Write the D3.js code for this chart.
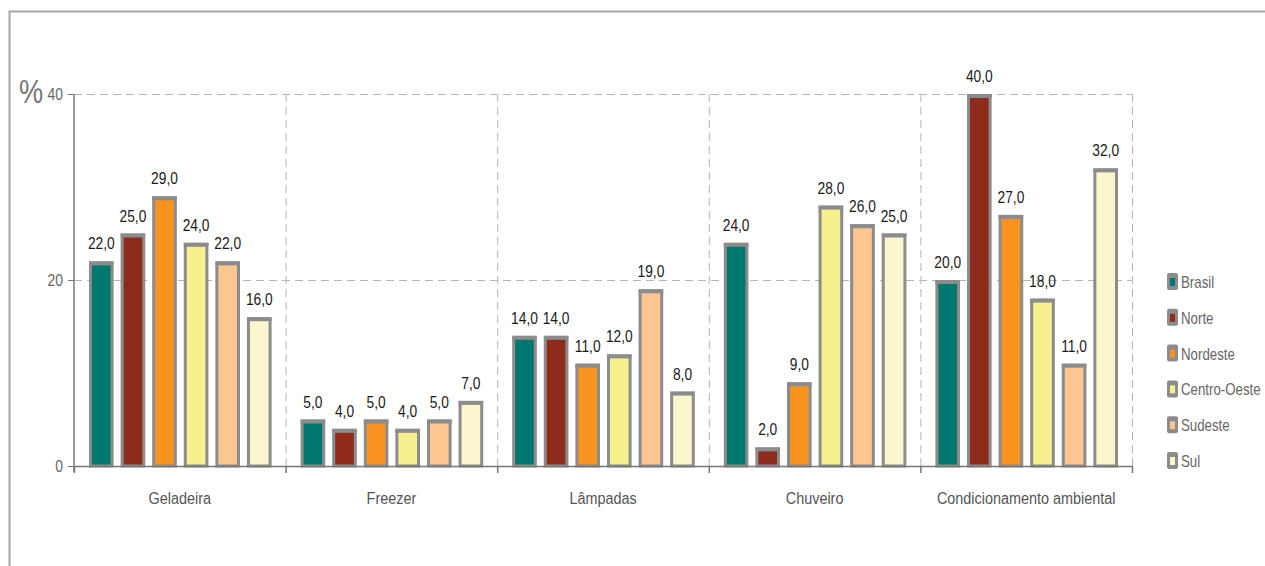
<!DOCTYPE html>
<html>
<head>
<meta charset="utf-8">
<style>
  body { margin: 0; background: #fff; }
  svg text { font-family: "Liberation Sans", Arial, sans-serif; }
</style>
</head>
<body>
<div id="chart"></div>
<script src="https://d3js.org/d3.v7.min.js"></script>
<script>
// categories and series
const categories = ['Geladeira', 'Freezer', 'Lâmpadas', 'Chuveiro', 'Condicionamento ambiental'];
const regions = ['Brasil', 'Norte', 'Nordeste', 'Centro-Oeste', 'Sudeste', 'Sul'];
const colors = ['#00776f', '#8e2b1c', '#f7931e', '#f6f08f', '#fdc690', '#fbf6cd'];

const brasil = [22, 5, 14, 24, 20];
const norte = [25, 4, 14, 2, 40];
const nordeste = [29, 5, 11, 9, 27];
const centroOeste = [24, 4, 12, 28, 18];
const sudeste = [22, 5, 19, 26, 11];
const sul = [16, 7, 8, 25, 32];

const yTicks = [0, 20, 40];

const series = [brasil, norte, nordeste, centroOeste, sudeste, sul];

const width = 1265;
const height = 566;
const margin = { top: 94, left: 74, right: 133, bottom: 100 };

// squeeze text horizontally to look like a condensed face
function condense(sel, k) {
  sel.each(function () {
    const w = this.getComputedTextLength();
    d3.select(this)
      .attr('textLength', w * k)
      .attr('lengthAdjust', 'spacingAndGlyphs');
  });
}

const svg = d3.select('#chart')
  .append('svg')
  .attr('width', width)
  .attr('height', height);

// frame (cut off at right and bottom)
svg.append('path')
  .attr('d', `M9.5,${height} V11.5 H${width}`)
  .attr('fill', 'none')
  .attr('stroke', '#a8a8a8')
  .attr('stroke-width', 2);

const x = d3.scaleBand()
  .domain(categories)
  .range([margin.left, width - margin.right])
  .padding(0);

const xInner = d3.scaleBand()
  .domain(regions)
  .range([15, x.bandwidth() - 14])
  .paddingInner(0.22)
  .paddingOuter(0);

const y = d3.scaleLinear()
  .domain([0, 40])
  .range([height - margin.bottom, margin.top]);

// horizontal dashed gridlines
svg.append('g')
  .selectAll('line')
  .data(yTicks.filter(d => d > 0))
  .join('line')
  .attr('x1', margin.left)
  .attr('x2', width - margin.right)
  .attr('y1', d => y(d) + 0.5)
  .attr('y2', d => y(d) + 0.5)
  .attr('stroke', '#b5b5b5')
  .attr('stroke-dasharray', '8,5');

// vertical dashed separators
svg.append('g')
  .selectAll('line')
  .data(categories.slice(1).map(c => x(c)).concat([width - margin.right]))
  .join('line')
  .attr('x1', d => d + 0.5)
  .attr('x2', d => d + 0.5)
  .attr('y1', y(40))
  .attr('y2', y(0))
  .attr('stroke', '#b5b5b5')
  .attr('stroke-dasharray', '8,5');

// bars
const groups = svg.append('g')
  .selectAll('g')
  .data(categories)
  .join('g')
  .attr('transform', d => `translate(${x(d)},0)`);

regions.forEach((r, ri) => {
  groups.append('rect')
    .attr('x', xInner(r) + 1.5)
    .attr('y', (d, i) => y(series[ri][i]) + 1.5)
    .attr('width', xInner.bandwidth() - 3)
    .attr('height', (d, i) => y(0) - y(series[ri][i]) - 1.5)
    .attr('fill', colors[ri])
    .attr('stroke', '#8c8c8c')
    .attr('stroke-width', 3);

  // thicker grey cap on top
  groups.append('rect')
    .attr('x', xInner(r))
    .attr('y', (d, i) => y(series[ri][i]))
    .attr('width', xInner.bandwidth())
    .attr('height', 4)
    .attr('fill', '#8c8c8c');

  groups.append('text')
    .attr('class', 'val')
    .attr('x', xInner(r) + xInner.bandwidth() / 2)
    .attr('y', (d, i) => y(series[ri][i]) - 12)
    .attr('text-anchor', 'middle')
    .attr('font-size', 16)
    .attr('fill', '#1a1a1a')
    .text((d, i) => series[ri][i].toFixed(1).replace('.', ','));
});
condense(svg.selectAll('text.val'), 0.86);

// y axis
const yAxis = svg.append('g')
  .attr('transform', `translate(${margin.left},0)`)
  .call(d3.axisLeft(y).tickValues(yTicks).tickSize(6).tickPadding(5));
yAxis.select('.domain').attr('stroke', '#777').attr('stroke-width', 1.5).attr('d', `M0,${y(40)}V${y(0) + 6}`);
yAxis.selectAll('.tick line').attr('stroke', '#777');
yAxis.selectAll('.tick text')
  .attr('fill', '#666')
  .attr('font-size', 16.5)
  .style('font-family', '"Liberation Sans", Arial, sans-serif');
condense(yAxis.selectAll('.tick text'), 0.84);

const pct = svg.append('text')
  .attr('x', 19)
  .attr('y', 103)
  .attr('font-size', 34)
  .attr('fill', '#777')
  .text('%');
condense(pct, 0.8);

// x axis
const xAxis = svg.append('g')
  .attr('transform', `translate(0,${y(0)})`)
  .call(d3.axisBottom(x).tickSize(0).tickPadding(27));
xAxis.select('.domain').attr('stroke', '#777').attr('stroke-width', 1.5);
xAxis.selectAll('.tick text')
  .attr('fill', '#555')
  .attr('font-size', 16)
  .style('font-family', '"Liberation Sans", Arial, sans-serif');
condense(xAxis.selectAll('.tick text'), 0.9);

// category boundary ticks
svg.append('g')
  .selectAll('line')
  .data(categories.map(c => x(c)).concat([width - margin.right]))
  .join('line')
  .attr('x1', d => d + 0.5)
  .attr('x2', d => d + 0.5)
  .attr('y1', y(0))
  .attr('y2', y(0) + 7)
  .attr('stroke', '#777')
  .attr('stroke-width', 1.5);

// legend
const legend = svg.append('g')
  .attr('transform', 'translate(1167,282)');

const item = legend.selectAll('g')
  .data(regions)
  .join('g')
  .attr('transform', (d, i) => `translate(0,${i * 35.8})`);

item.append('rect')
  .attr('x', 0)
  .attr('y', -9)
  .attr('width', 11)
  .attr('height', 17)
  .attr('rx', 2)
  .attr('fill', '#8c8c8c');

item.append('rect')
  .attr('x', 3)
  .attr('y', -4)
  .attr('width', 5)
  .attr('height', 8)
  .attr('fill', (d, i) => colors[i]);

item.append('text')
  .attr('transform', 'translate(14,6) scale(0.83,1)')
  .attr('font-size', 16)
  .attr('fill', '#666')
  .text(d => d);
</script>
</body>
</html>
